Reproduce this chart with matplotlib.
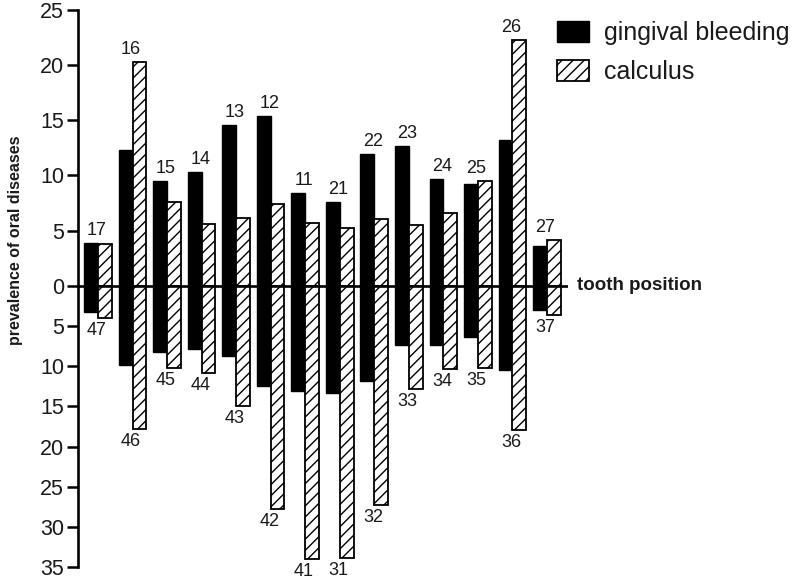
import numpy as np
import matplotlib
matplotlib.use("Agg")
import matplotlib.pyplot as plt
from matplotlib.scale import FuncScale

plt.rcParams['font.family'] = ['Liberation Sans', 'DejaVu Sans']
plt.rcParams['hatch.linewidth'] = 1.0

# upper jaw (above the zero line) and lower jaw (below it)
upper_teeth = ['17', '16', '15', '14', '13', '12', '11', '21', '22', '23', '24', '25', '26', '27']
lower_teeth = ['47', '46', '45', '44', '43', '42', '41', '31', '32', '33', '34', '35', '36', '37']

bleeding_upper = [3.9, 12.3, 9.5, 10.3, 14.6, 15.4, 8.4, 7.6, 11.9, 12.7, 9.7, 9.2, 13.2, 3.6]
calculus_upper = [3.8, 20.3, 7.6, 5.6, 6.1, 7.4, 5.7, 5.2, 6.0, 5.5, 6.6, 9.5, 22.3, 4.1]
bleeding_lower = [3.3, 9.9, 8.3, 7.9, 8.8, 12.5, 13.1, 13.3, 11.8, 7.4, 7.4, 6.4, 10.5, 3.0]
calculus_lower = [4.0, 17.8, 10.2, 10.9, 14.9, 27.8, 34.0, 33.8, 27.2, 12.9, 10.4, 10.2, 17.9, 3.7]

x = np.arange(len(upper_teeth))
w = 0.4
k = 11.03 / 8.05  # upper half is drawn with a larger scale than the lower half


def fwd(y):
    y = np.asarray(y, dtype=float)
    return np.where(y >= 0, y * k, y)


def inv(u):
    u = np.asarray(u, dtype=float)
    return np.where(u >= 0, u / k, u)


fig = plt.figure(figsize=(8, 5.79), dpi=100)
ax = fig.add_axes([78 / 800, 1 - 567.3 / 579, (568 - 78) / 800, (567.3 - 10) / 579])
ax.set_yscale(FuncScale(ax, (fwd, inv)))

ax.bar(x - w / 2, bleeding_upper, w, color='black', edgecolor='black', linewidth=1.0, label='gingival bleeding')
ax.bar(x + w / 2, calculus_upper, w, color='white', edgecolor='black', hatch='///', linewidth=1.3, label='calculus')
ax.bar(x - w / 2, -np.array(bleeding_lower), w, color='black', edgecolor='black', linewidth=1.0)
ax.bar(x + w / 2, -np.array(calculus_lower), w, color='white', edgecolor='black', hatch='///', linewidth=1.3)

ax.axhline(0, color='black', linewidth=1.9, zorder=5)

for i in range(len(x)):
    top = max(bleeding_upper[i], calculus_upper[i])
    ax.annotate(upper_teeth[i], (x[i], top), xytext=(-1, 9), textcoords='offset points',
                ha='center', va='center', fontsize=13, color='#1a1a1a')
    bot = -max(bleeding_lower[i], calculus_lower[i])
    ax.annotate(lower_teeth[i], (x[i], bot), xytext=(-1, -9), textcoords='offset points',
                ha='center', va='center', fontsize=13, color='#1a1a1a')

ax.set_xlim(-0.58, 13.61)
ax.set_ylim(-35, 25)
yt = np.arange(-35, 26, 5)
ax.set_yticks(yt)
ax.set_yticklabels([str(abs(v)) for v in yt], fontsize=15.5, color='#1a1a1a')
ax.set_xticks([])
ax.tick_params(axis='y', length=8, width=1.8, pad=2)

for s in ['top', 'right', 'bottom']:
    ax.spines[s].set_visible(False)
ax.spines['left'].set_linewidth(1.9)

fig.text(16 / 800, 1 - 240 / 579, 'prevalence of oral diseases', rotation=90, ha='center', va='center',
         fontsize=11.5, fontweight='bold', color='#1a1a1a')
fig.text(577 / 800, 1 - 285.7 / 579, 'tooth position', ha='left', va='center',
         fontsize=13.5, fontweight='bold', color='#1a1a1a')

ax.legend(loc='upper left', bbox_to_anchor=(557 / 800, 1 - 21 / 579), bbox_transform=fig.transFigure,
          frameon=False, fontsize=18, borderpad=0, borderaxespad=0, handlelength=1.28, handleheight=0.9,
          handletextpad=0.6, labelspacing=0.6, labelcolor='#1a1a1a')

fig.savefig('out.png', dpi=100)
